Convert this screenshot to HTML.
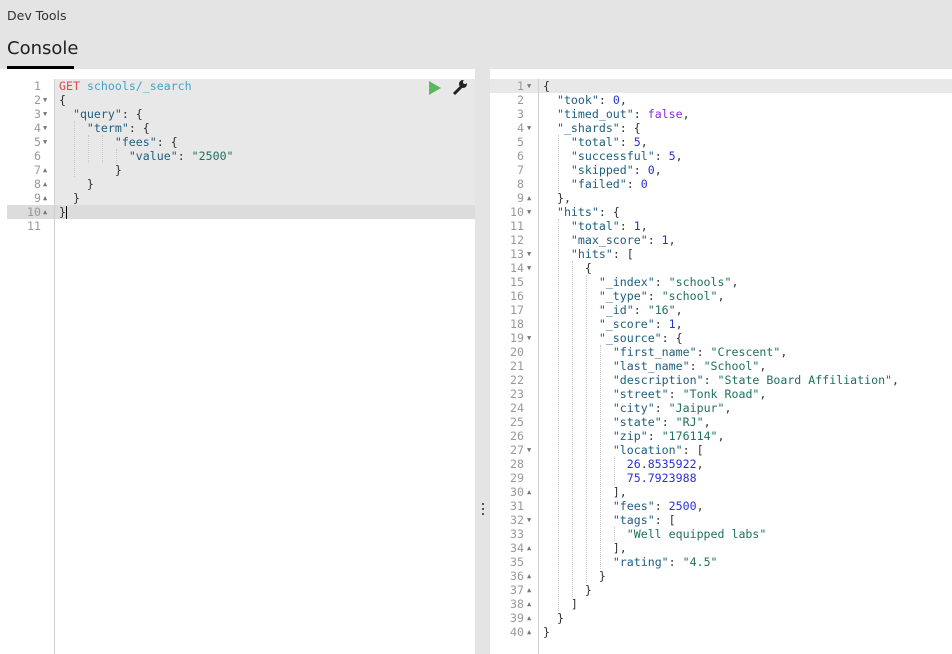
<!DOCTYPE html>
<html><head><meta charset="utf-8"><style>
*{margin:0;padding:0;box-sizing:border-box}
body{width:952px;height:654px;background:#fff;position:relative;overflow:hidden;font-family:"DejaVu Sans","Liberation Sans",sans-serif}
.hdr{position:absolute;left:0;top:0;width:952px;height:69px;background:#e4e4e4}
.t1{position:absolute;left:7px;top:8px;font-size:12.5px;color:#333}
.t2{position:absolute;left:7px;top:38px;font-size:18px;color:#222}
.ul{position:absolute;left:7px;top:66px;width:67px;height:3px;background:#000}
.split{position:absolute;left:475px;top:69px;width:15px;height:585px;background:#e4e4e4}
.dots{position:absolute;left:482px;top:503px;width:2px;font-size:0}
.dots i{display:block;width:2px;height:2px;background:#555;margin-bottom:3px}
.code{position:absolute;font-family:"DejaVu Sans Mono","Liberation Mono",monospace;font-size:11.6px;line-height:14px;white-space:pre;color:#333}
.gut{position:absolute;font-family:"DejaVu Sans Mono","Liberation Mono",monospace;font-size:11.6px;line-height:14px;white-space:pre;color:#999;text-align:right}
.k{color:#205e7e}.s{color:#1e7060}.n{color:#2a30d0}.b{color:#8a2be2}.m{color:#e04848}.u{color:#3aa7c7}
.vl{position:absolute;border-left:1px dotted #c8c8c8}
</style></head><body>
<div class="hdr"><div class="t1">Dev Tools</div><div class="t2">Console</div><div class="ul"></div></div>
<div class="split"></div>
<div class="dots"><i></i><i></i><i></i></div>

<div style="position:absolute;left:54px;top:79px;width:421px;height:126px;background:#e8e8e8"></div>
<div style="position:absolute;left:7px;top:205px;width:468px;height:14px;background:#dcdcdc"></div>
<div style="position:absolute;left:54px;top:79px;width:1px;height:575px;background:#d0d0d0"></div>
<div class="gut" style="left:7px;top:79px;width:34px">1
2
3
4
5
6
7
8
9
10
11</div>
<div class="gut" style="left:43px;top:79px;width:10px;text-align:left;font-size:7px;color:#777"> 
▼
▼
▼
▼
 
▲
▲
▲
▲</div>
<div class="vl" style="left:74px;top:121px;height:56px"></div>
<div class="vl" style="left:88px;top:135px;height:28px"></div>
<div class="vl" style="left:102px;top:135px;height:28px"></div>
<div class="vl" style="left:116px;top:149px;height:14px"></div>
<div class="code" style="left:59px;top:79px"><span class="m">GET</span> <span class="u">schools/_search</span>
{
  <span class="k">"query"</span>: {
    <span class="k">"term"</span>: {
        <span class="k">"fees"</span>: {
          <span class="k">"value"</span>: <span class="s">"2500"</span>
        }
    }
  }
}</div>
<div style="position:absolute;left:66px;top:206px;width:1px;height:13px;background:#000"></div>
<svg style="position:absolute;left:428px;top:80px" width="14" height="16"><polygon points="1,1 13,8 1,15" fill="#5cb85c"/></svg>
<svg style="position:absolute;left:452px;top:79px" width="16" height="17"><path d="M2,15 L9,8" stroke="#222" stroke-width="3"/><circle cx="11" cy="5" r="4" fill="#222"/><circle cx="13" cy="3" r="2" fill="#e8e8e8"/></svg>

<div style="position:absolute;left:490px;top:79px;width:462px;height:14px;background:#e8e8e8"></div>
<div style="position:absolute;left:538px;top:79px;width:1px;height:575px;background:#d0d0d0"></div>
<div class="gut" style="left:490px;top:79px;width:34px">1
2
3
4
5
6
7
8
9
10
11
12
13
14
15
16
17
18
19
20
21
22
23
24
25
26
27
28
29
30
31
32
33
34
35
36
37
38
39
40</div>
<div class="gut" style="left:527px;top:79px;width:10px;text-align:left;font-size:7px;color:#777">▼
 
 
▼
 
 
 
 
▲
▼
 
 
▼
▼
 
 
 
 
▼
 
 
 
 
 
 
 
▼
 
 
▲
 
▼
 
▲
 
▲
▲
▲
▲
▲</div>
<div class="vl" style="left:558px;top:135px;height:56px"></div>
<div class="vl" style="left:558px;top:219px;height:392px"></div>
<div class="vl" style="left:572px;top:261px;height:336px"></div>
<div class="vl" style="left:586px;top:275px;height:308px"></div>
<div class="vl" style="left:600px;top:345px;height:224px"></div>
<div class="vl" style="left:614px;top:457px;height:28px"></div>
<div class="vl" style="left:614px;top:527px;height:14px"></div>
<div class="code" style="left:543px;top:79px">{
  <span class="k">"took"</span>: <span class="n">0</span>,
  <span class="k">"timed_out"</span>: <span class="b">false</span>,
  <span class="k">"_shards"</span>: {
    <span class="k">"total"</span>: <span class="n">5</span>,
    <span class="k">"successful"</span>: <span class="n">5</span>,
    <span class="k">"skipped"</span>: <span class="n">0</span>,
    <span class="k">"failed"</span>: <span class="n">0</span>
  },
  <span class="k">"hits"</span>: {
    <span class="k">"total"</span>: <span class="n">1</span>,
    <span class="k">"max_score"</span>: <span class="n">1</span>,
    <span class="k">"hits"</span>: [
      {
        <span class="k">"_index"</span>: <span class="s">"schools"</span>,
        <span class="k">"_type"</span>: <span class="s">"school"</span>,
        <span class="k">"_id"</span>: <span class="s">"16"</span>,
        <span class="k">"_score"</span>: <span class="n">1</span>,
        <span class="k">"_source"</span>: {
          <span class="k">"first_name"</span>: <span class="s">"Crescent"</span>,
          <span class="k">"last_name"</span>: <span class="s">"School"</span>,
          <span class="k">"description"</span>: <span class="s">"State Board Affiliation"</span>,
          <span class="k">"street"</span>: <span class="s">"Tonk Road"</span>,
          <span class="k">"city"</span>: <span class="s">"Jaipur"</span>,
          <span class="k">"state"</span>: <span class="s">"RJ"</span>,
          <span class="k">"zip"</span>: <span class="s">"176114"</span>,
          <span class="k">"location"</span>: [
            <span class="n">26.8535922</span>,
            <span class="n">75.7923988</span>
          ],
          <span class="k">"fees"</span>: <span class="n">2500</span>,
          <span class="k">"tags"</span>: [
            <span class="s">"Well equipped labs"</span>
          ],
          <span class="k">"rating"</span>: <span class="s">"4.5"</span>
        }
      }
    ]
  }
}</div>
</body></html>
